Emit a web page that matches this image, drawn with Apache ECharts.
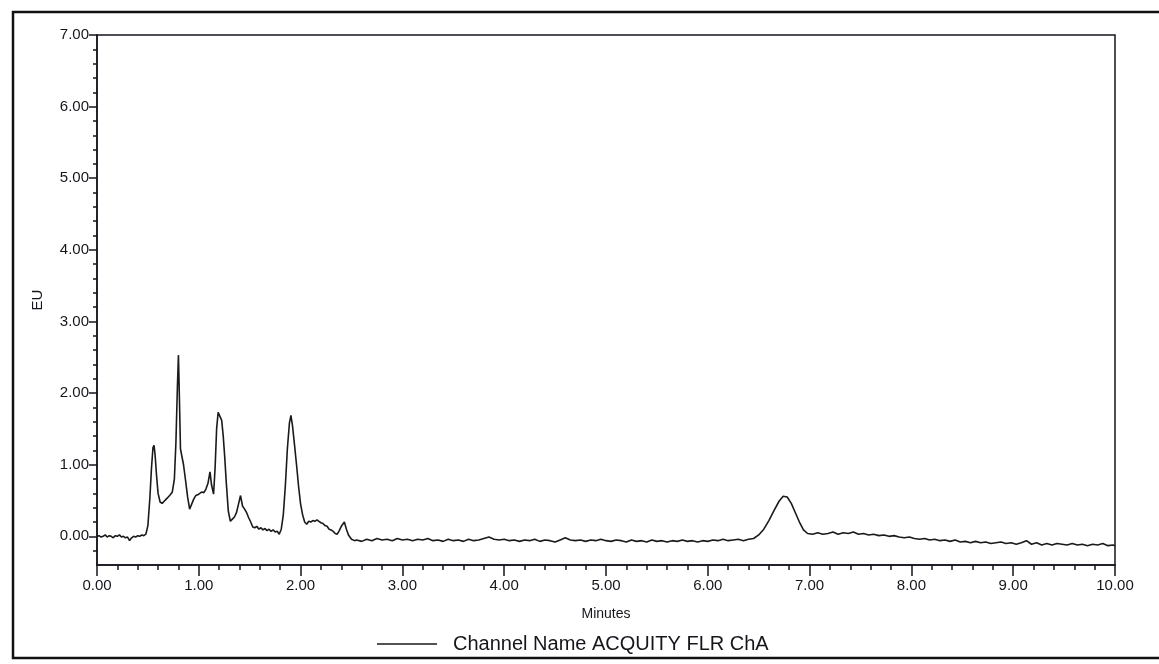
<!DOCTYPE html>
<html>
<head>
<meta charset="utf-8">
<script src="https://cdn.jsdelivr.net/npm/echarts@6/dist/echarts.min.js"></script>
<style>
html, body { margin: 0; padding: 0; background: #fff; }
#chart { width: 1159px; height: 664px; }
</style>
</head>
<body>
<div id="chart"></div>
<script>
// retention time (min) and signal (EU)
var minutes = [
	0.00, 0.02, 0.04, 0.06, 0.08, 0.10, 0.12, 0.14, 0.16, 0.18, 0.20, 0.22, 0.24, 0.26, 0.28, 0.30, 0.32, 0.34, 0.36, 0.38, 0.40, 0.42, 0.44, 0.46, 0.48,
	0.50, 0.52, 0.535, 0.55, 0.56, 0.57, 0.585, 0.60, 0.62, 0.64, 0.66, 0.68, 0.70, 0.72, 0.74, 0.76, 0.775, 0.79, 0.80, 0.81, 0.82, 0.835, 0.85, 0.87, 0.89,
	0.91, 0.93, 0.95, 0.97, 0.99, 1.01, 1.03, 1.05, 1.07, 1.09, 1.11, 1.125, 1.145, 1.16, 1.175, 1.19, 1.205, 1.225, 1.24, 1.255, 1.27, 1.29, 1.31, 1.33, 1.35,
	1.37, 1.39, 1.41, 1.43, 1.45, 1.47, 1.49, 1.51, 1.53, 1.55, 1.57, 1.59, 1.61, 1.63, 1.65, 1.67, 1.69, 1.71, 1.73, 1.75, 1.77, 1.79, 1.81, 1.83, 1.85,
	1.87, 1.89, 1.905, 1.92, 1.94, 1.96, 1.98, 2.00, 2.02, 2.04, 2.06, 2.08, 2.10, 2.12, 2.14, 2.16, 2.18, 2.20, 2.22, 2.24, 2.26, 2.28, 2.30, 2.32, 2.34,
	2.36, 2.38, 2.40, 2.43, 2.45, 2.47, 2.50, 2.53,
	2.55, 2.60, 2.65, 2.70, 2.75, 2.80, 2.85, 2.90, 2.95, 3.00, 3.05, 3.10, 3.15, 3.20, 3.25, 3.30, 3.35, 3.40, 3.45, 3.50, 3.55, 3.60, 3.65, 3.70, 3.75,
	3.80, 3.85, 3.90, 3.95, 4.00, 4.05, 4.10, 4.15, 4.20, 4.25, 4.30, 4.35, 4.40, 4.45, 4.50, 4.55, 4.60, 4.65, 4.70, 4.75, 4.80, 4.85, 4.90, 4.95, 5.00,
	5.05, 5.10, 5.15, 5.20, 5.25, 5.30, 5.35, 5.40, 5.45, 5.50, 5.55, 5.60, 5.65, 5.70, 5.75, 5.80, 5.85, 5.90, 5.95, 6.00, 6.05, 6.10, 6.15, 6.20, 6.25,
	6.30, 6.35, 6.40, 6.45,
	6.50, 6.55, 6.60, 6.65, 6.70, 6.74, 6.78, 6.82, 6.86, 6.90, 6.94, 6.98,
	7.03, 7.08, 7.13, 7.18, 7.23, 7.28, 7.33, 7.38, 7.43, 7.48, 7.53, 7.58, 7.63, 7.68, 7.73, 7.78, 7.83, 7.88, 7.93, 7.98, 8.03, 8.08, 8.13, 8.18, 8.23,
	8.28, 8.33, 8.38, 8.43, 8.48, 8.53, 8.58, 8.63, 8.68, 8.73, 8.78, 8.83, 8.88, 8.93, 8.98, 9.03, 9.08, 9.13, 9.18, 9.23, 9.28, 9.33, 9.38, 9.43, 9.48,
	9.53, 9.58, 9.63, 9.68, 9.73, 9.78, 9.83, 9.88, 9.93, 9.98, 10.00
];
var signal = [
	0.00, 0.01, -0.01, 0.00, 0.02, -0.01, 0.01, 0.00, -0.02, 0.01, 0.00, 0.02, -0.01, 0.00, -0.02, -0.01, -0.06, -0.02, 0.00, -0.01, 0.01, 0.00, 0.02, 0.01, 0.03,
	0.15, 0.55, 0.95, 1.24, 1.27, 1.15, 0.85, 0.60, 0.48, 0.46, 0.49, 0.52, 0.55, 0.58, 0.62, 0.80, 1.30, 2.10, 2.53, 1.90, 1.22, 1.20, 1.00, 0.78, 0.55,
	0.38, 0.45, 0.52, 0.57, 0.58, 0.60, 0.62, 0.61, 0.66, 0.74, 0.90, 0.72, 0.59, 0.95, 1.50, 1.73, 1.72, 1.62, 1.40, 1.10, 0.75, 0.35, 0.21, 0.24, 0.27,
	0.33, 0.45, 0.57, 0.42, 0.38, 0.33, 0.26, 0.20, 0.13, 0.12, 0.14, 0.10, 0.12, 0.09, 0.11, 0.08, 0.10, 0.07, 0.09, 0.06, 0.07, 0.03, 0.10, 0.30, 0.70,
	1.22, 1.58, 1.69, 1.55, 1.28, 1.00, 0.70, 0.45, 0.30, 0.20, 0.17, 0.21, 0.20, 0.22, 0.21, 0.23, 0.21, 0.19, 0.18, 0.15, 0.14, 0.10, 0.09, 0.07, 0.04,
	0.03, 0.08, 0.14, 0.20, 0.10, 0.02, -0.04, -0.06,
	-0.05, -0.07, -0.04, -0.06, -0.03, -0.05, -0.04, -0.06, -0.03, -0.05, -0.04, -0.06, -0.04, -0.05, -0.03, -0.06, -0.05, -0.07, -0.04, -0.06, -0.05, -0.07, -0.04, -0.06, -0.05,
	-0.03, -0.01, -0.04, -0.05, -0.04, -0.06, -0.05, -0.07, -0.05, -0.06, -0.04, -0.07, -0.05, -0.06, -0.08, -0.05, -0.02, -0.05, -0.06, -0.05, -0.07, -0.05, -0.06, -0.04, -0.06,
	-0.07, -0.05, -0.06, -0.08, -0.05, -0.07, -0.06, -0.08, -0.05, -0.07, -0.06, -0.08, -0.06, -0.07, -0.05, -0.07, -0.06, -0.08, -0.06, -0.07, -0.05, -0.06, -0.04, -0.06, -0.05,
	-0.04, -0.06, -0.04, -0.03,
	0.02, 0.10, 0.22, 0.36, 0.49, 0.56, 0.55, 0.46, 0.33, 0.20, 0.09, 0.04,
	0.03, 0.05, 0.03, 0.04, 0.06, 0.03, 0.05, 0.04, 0.06, 0.03, 0.04, 0.02, 0.03, 0.01, 0.02, 0.00, 0.01, -0.01, -0.02, -0.01, -0.03, -0.04, -0.03, -0.05, -0.04,
	-0.06, -0.05, -0.07, -0.05, -0.08, -0.07, -0.09, -0.07, -0.09, -0.08, -0.10, -0.09, -0.08, -0.10, -0.09, -0.11, -0.09, -0.06, -0.11, -0.09, -0.12, -0.10, -0.12, -0.10, -0.11,
	-0.12, -0.10, -0.12, -0.11, -0.13, -0.11, -0.12, -0.10, -0.13, -0.12, -0.13
];
var yMajorTicks = [0, 1, 2, 3, 4, 5, 6, 7];
var yMinorTicks = [-0.2, 0.2, 0.4, 0.6, 0.8, 1.2, 1.4, 1.6, 1.8, 2.2, 2.4, 2.6, 2.8, 3.2, 3.4, 3.6, 3.8,
	4.2, 4.4, 4.6, 4.8, 5.2, 5.4, 5.6, 5.8, 6.2, 6.4, 6.6, 6.8];
var seriesName = 'Channel Name ACQUITY FLR ChA';

var pairs = [];
for (var i = 0; i < minutes.length; i++) {
	pairs.push([minutes[i], signal[i]]);
}

var ink = '#15161c';
var font = 'Liberation Sans';

var option = {
	animation : false,
	backgroundColor : '#fff',
	textStyle : {
		fontFamily : font
	},
	grid : {
		left : 97,
		right : 44,
		top : 35,
		bottom : 99,
		show : true,
		borderColor : ink,
		borderWidth : 1.5
	},
	legend : {
		left : 372,
		top : 629,
		icon : 'rect',
		itemWidth : 60,
		itemHeight : 1.5,
		data : [seriesName],
		textStyle : {
			fontFamily : font,
			fontSize : 20,
			color : ink,
			padding : [0, 0, 0, 11]
		}
	},
	xAxis : {
		type : 'value',
		min : 0,
		max : 10,
		interval : 1,
		name : 'Minutes',
		nameLocation : 'middle',
		nameGap : 42,
		nameTextStyle : {
			fontFamily : font,
			fontSize : 14,
			color : ink
		},
		axisLine : {
			onZero : false,
			lineStyle : {
				color : ink,
				width : 1.5
			}
		},
		axisTick : {
			length : 11,
			lineStyle : {
				color : ink,
				width : 1.5
			}
		},
		minorTick : {
			show : true,
			splitNumber : 5,
			length : 5,
			lineStyle : {
				color : ink,
				width : 1.5
			}
		},
		axisLabel : {
			fontSize : 15,
			color : ink,
			margin : 13,
			formatter : function(v) {
				return v.toFixed(2);
			}
		},
		splitLine : {
			show : false
		}
	},
	yAxis : [{
				type : 'value',
				min : -0.4,
				max : 7,
				name : 'EU',
				nameLocation : 'middle',
				nameGap : 52,
				nameTextStyle : {
					fontFamily : font,
					fontSize : 15,
					color : ink
				},
				axisLine : {
					show : true,
					onZero : false,
					lineStyle : {
						color : ink,
						width : 1.5
					}
				},
				axisTick : {
					show : true,
					length : 8,
					customValues : yMajorTicks,
					lineStyle : {
						color : ink,
						width : 1.5
					}
				},
				axisLabel : {
					fontSize : 15,
					color : ink,
					margin : 8,
					customValues : yMajorTicks,
					formatter : function(v) {
						return v.toFixed(2);
					}
				},
				splitLine : {
					show : false
				}
			}, {
				type : 'value',
				min : -0.4,
				max : 7,
				position : 'left',
				offset : 0,
				axisLine : {
					show : false,
					onZero : false
				},
				axisTick : {
					show : true,
					length : 4,
					customValues : yMinorTicks,
					lineStyle : {
						color : ink,
						width : 1.5
					}
				},
				axisLabel : {
					show : false
				},
				splitLine : {
					show : false
				}
			}],
	series : [{
				name : seriesName,
				type : 'line',
				data : pairs,
				showSymbol : false,
				symbol : 'none',
				lineStyle : {
					color : '#1a1a1a',
					width : 1.6
				},
				itemStyle : {
					color : '#1a1a1a'
				}
			}],
	graphic : [{
				type : 'rect',
				shape : {
					x : 13,
					y : 12,
					width : 1170,
					height : 646
				},
				style : {
					fill : null,
					stroke : '#111',
					lineWidth : 2.5
				},
				silent : true
			}]
};

var chart = echarts.init(document.getElementById('chart'));
chart.setOption(option);
</script>
</body>
</html>
